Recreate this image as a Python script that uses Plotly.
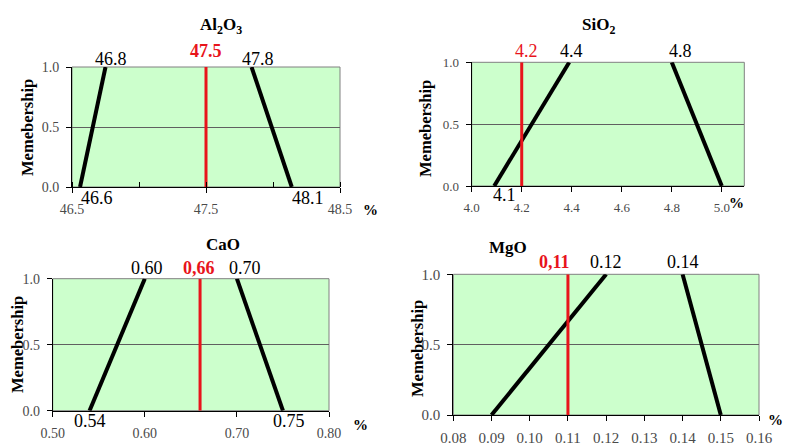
import plotly.graph_objects as go

W, H = 791, 445

# ---------------- data ----------------
titles = ["Al<sub>2</sub>O<sub>3</sub>", "SiO<sub>2</sub>", "CaO", "MgO"]
membership = [0.0, 1.0]
left_x0 = [46.56, 4.09, 0.54, 0.09]     # rising edge, membership 0
left_x1 = [46.75, 4.39, 0.60, 0.12]     # rising edge, membership 1
right_x1 = [47.84, 4.80, 0.70, 0.14]    # falling edge, membership 1
right_x0 = [48.14, 5.00, 0.75, 0.15]    # falling edge, membership 0
measured = [47.5, 4.2, 0.66, 0.11]
measured_text = ["<b>47.5</b>", "4.2", "<b>0,66</b>", "<b>0,11</b>"]
x_ranges = [[46.5, 48.5], [4.0, 5.09], [0.5, 0.8], [0.08, 0.16]]
x_tickvals = [[46.5, 47.5, 48.5],
              [4.0, 4.2, 4.4, 4.6, 4.8, 5.0],
              [0.5, 0.6, 0.7, 0.8],
              [0.08, 0.09, 0.10, 0.11, 0.12, 0.13, 0.14, 0.15, 0.16]]
x_ticktext = [["46.5", "47.5", "48.5"],
              ["4.0", "4.2", "4.4", "4.6", "4.8", "5.0"],
              ["0.50", "0.60", "0.70", "0.80"],
              ["0.08", "0.09", "0.10", "0.11", "0.12", "0.13", "0.14", "0.15", "0.16"]]
x_minor = [0.5, None, None, None]
y_tickvals = [0.0, 0.5, 1.0]
y_ticktext = ["0.0", "0.5", "1.0"]
top_labels = [["46.8", "47.8"], ["4.4", "4.8"], ["0.60", "0.70"], ["0.12", "0.14"]]
top_label_x = [[46.79, 47.89], [4.40, 4.833], [0.602, 0.709], [0.12, 0.14]]
red_label_x = [47.5, 4.22, 0.659, 0.1066]
bottom_labels = [["46.6", "48.1"], ["4.1"], ["0.54", "0.75"], []]
bottom_label_x = [[46.69, 48.26], [4.133], [0.54, 0.757], []]

# ---------------- layout (pixels) ----------------
boxes = [(72, 340, 67, 187), (471.7, 744.3, 62.3, 186),
         (52.7, 329, 278.7, 410.7), (453.3, 759, 274.3, 415)]
title_pos = [(198, 13), (617, 13), (204, 244), (529, 247)]
ytitle_pos = [(27, 128), (425, 128), (17, 345), (417, 349)]
pct_pos = [(370, 210), (746, 203), (360, 435), (785, 430)]
top_off = [7, 10, 10, 11.6]
red_off = [15, 10, 10, 11.6]
bot_off = [12, 10, 11, 11]
tick_size = [14, 13, 14, 15]

SERIF = "Liberation Serif, Times New Roman, serif"
GREEN = "#CCFFCC"

fig = go.Figure()
annotations = []
shapes = []

def px(x):
    return x / W

def py(y):
    return 1 - y / H

for i in range(4):
    n = "" if i == 0 else str(i + 1)
    xa, ya = "x" + n, "y" + n
    x0, x1, y0, y1 = boxes[i]
    # trapezoid edges
    fig.add_trace(go.Scatter(x=[left_x0[i], left_x1[i]], y=membership, mode="lines",
                             line=dict(color="black", width=4), xaxis=xa, yaxis=ya,
                             showlegend=False, hoverinfo="skip"))
    fig.add_trace(go.Scatter(x=[right_x0[i], right_x1[i]], y=membership, mode="lines",
                             line=dict(color="black", width=4), xaxis=xa, yaxis=ya,
                             showlegend=False, hoverinfo="skip"))
    # measured value
    fig.add_trace(go.Scatter(x=[measured[i], measured[i]], y=membership, mode="lines",
                             line=dict(color="#E8141B", width=3), xaxis=xa, yaxis=ya,
                             showlegend=False, hoverinfo="skip"))
    xaxis = dict(domain=[px(x0), px(x1)], range=x_ranges[i], anchor=ya,
                 tickvals=x_tickvals[i], ticktext=x_ticktext[i], automargin=False,
                 ticks="outside", ticklen=5, tickcolor="black", showline=True,
                 linecolor="black", linewidth=1, showgrid=False, zeroline=False,
                 tickfont=dict(family=SERIF, size=tick_size[i], color="#4a4a4a"),
                 ticklabelstandoff=4, fixedrange=True)
    if x_minor[i]:
        xaxis["minor"] = dict(dtick=x_minor[i], tick0=x_ranges[i][0], ticks="inside",
                              ticklen=5, tickcolor="black", showgrid=False)
    yaxis = dict(domain=[py(y1), py(y0)], range=[0, 1], anchor=xa, automargin=False,
                 tickvals=y_tickvals, ticktext=y_ticktext,
                 ticks="outside", ticklen=5, tickcolor="black", showline=True,
                 linecolor="black", linewidth=1, showgrid=True, gridcolor="#606060",
                 gridwidth=1, zeroline=False,
                 tickfont=dict(family=SERIF, size=tick_size[i], color="#4a4a4a"),
                 ticklabelstandoff=4, fixedrange=True)
    fig.update_layout(**{"xaxis" + n: xaxis, "yaxis" + n: yaxis})
    # green background + gray frame
    shapes.append(dict(type="rect", xref=xa + " domain", yref=ya + " domain",
                       x0=0, x1=1, y0=0, y1=1, fillcolor=GREEN,
                       line=dict(color="#808080", width=1), layer="below"))
    # title
    tx, ty = title_pos[i]
    annotations.append(dict(text="<b>" + titles[i] + "</b>", xref="paper", yref="paper",
                            x=px(tx), y=py(ty), showarrow=False,
                            font=dict(family=SERIF, size=17, color="black")))
    # y title
    yx, yy = ytitle_pos[i]
    annotations.append(dict(text="<b>Memebership</b>", xref="paper", yref="paper",
                            x=px(yx), y=py(yy), xanchor="center", yanchor="middle",
                            showarrow=False, textangle=-90,
                            font=dict(family=SERIF, size=16.5, color="black")))
    # percent sign
    qx, qy = pct_pos[i]
    annotations.append(dict(text="<b>%</b>", xref="paper", yref="paper",
                            x=px(qx), y=py(qy), showarrow=False,
                            font=dict(family=SERIF, size=15, color="black")))
    # top labels
    for t, lx in zip(top_labels[i], top_label_x[i]):
        annotations.append(dict(text=t, xref=xa, yref=ya + " domain", x=lx, y=1,
                                yanchor="middle", yshift=top_off[i] + 1, showarrow=False,
                                font=dict(family=SERIF, size=18, color="black")))
    annotations.append(dict(text=measured_text[i], xref=xa,
                            yref=ya + " domain", x=red_label_x[i], y=1,
                            yanchor="middle", yshift=red_off[i] + 1, showarrow=False,
                            font=dict(family=SERIF, size=18, color="#E8141B")))
    for t, lx in zip(bottom_labels[i], bottom_label_x[i]):
        annotations.append(dict(text=t, xref=xa, yref=ya + " domain", x=lx, y=0,
                                yanchor="middle", yshift=-bot_off[i] + 1, showarrow=False,
                                font=dict(family=SERIF, size=18, color="black")))

fig.update_layout(width=W, height=H, margin=dict(l=0, r=0, t=0, b=0),
                  paper_bgcolor="white", plot_bgcolor="rgba(0,0,0,0)",
                  annotations=annotations, shapes=shapes, showlegend=False)

fig.write_html("out.html", config={"displayModeBar": False},
               post_script="document.body.style.margin='0';document.body.style.overflow='hidden';")
